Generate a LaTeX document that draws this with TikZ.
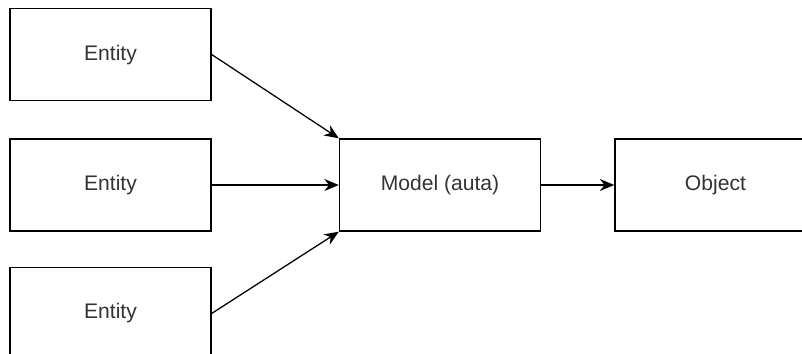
\documentclass[tikz,border=0pt]{standalone}
\usepackage{fontspec}
\setmainfont{Liberation Sans}
\usetikzlibrary{positioning,arrows.meta}

\begin{document}
\begin{tikzpicture}[x=0.025cm,y=-0.025cm,
  box/.style={draw, line width=1pt, minimum width=5.025cm, minimum height=2.3cm,
    inner sep=0pt, font=\fontsize{15}{18}\selectfont, text=black!80},
  link/.style={-{Stealth[length=0.36cm,width=0.3cm]}, line width=0.9pt}]
\useasboundingbox (0,0) rectangle (802,354);
\clip (0,0) rectangle (802,354);

% left column
\node[box] (ent2) at (110.5,185) {Entity};
\node[box, above=0.925cm of ent2] (ent1) {Entity};
\node[box, below=0.875cm of ent2] (ent3) {Entity};

% model and result
\node[box, right=3.175cm of ent2] (model) {Model (auta)};
\node[box, right=1.825cm of model] (obj) {Object};

\draw[link] (ent1.east) -- (model.north west);
\draw[link] (ent2.east) -- (model.west);
\draw[link] (ent3.east) -- (model.south west);
\draw[link] (model.east) -- (obj.west);
\end{tikzpicture}
\end{document}
